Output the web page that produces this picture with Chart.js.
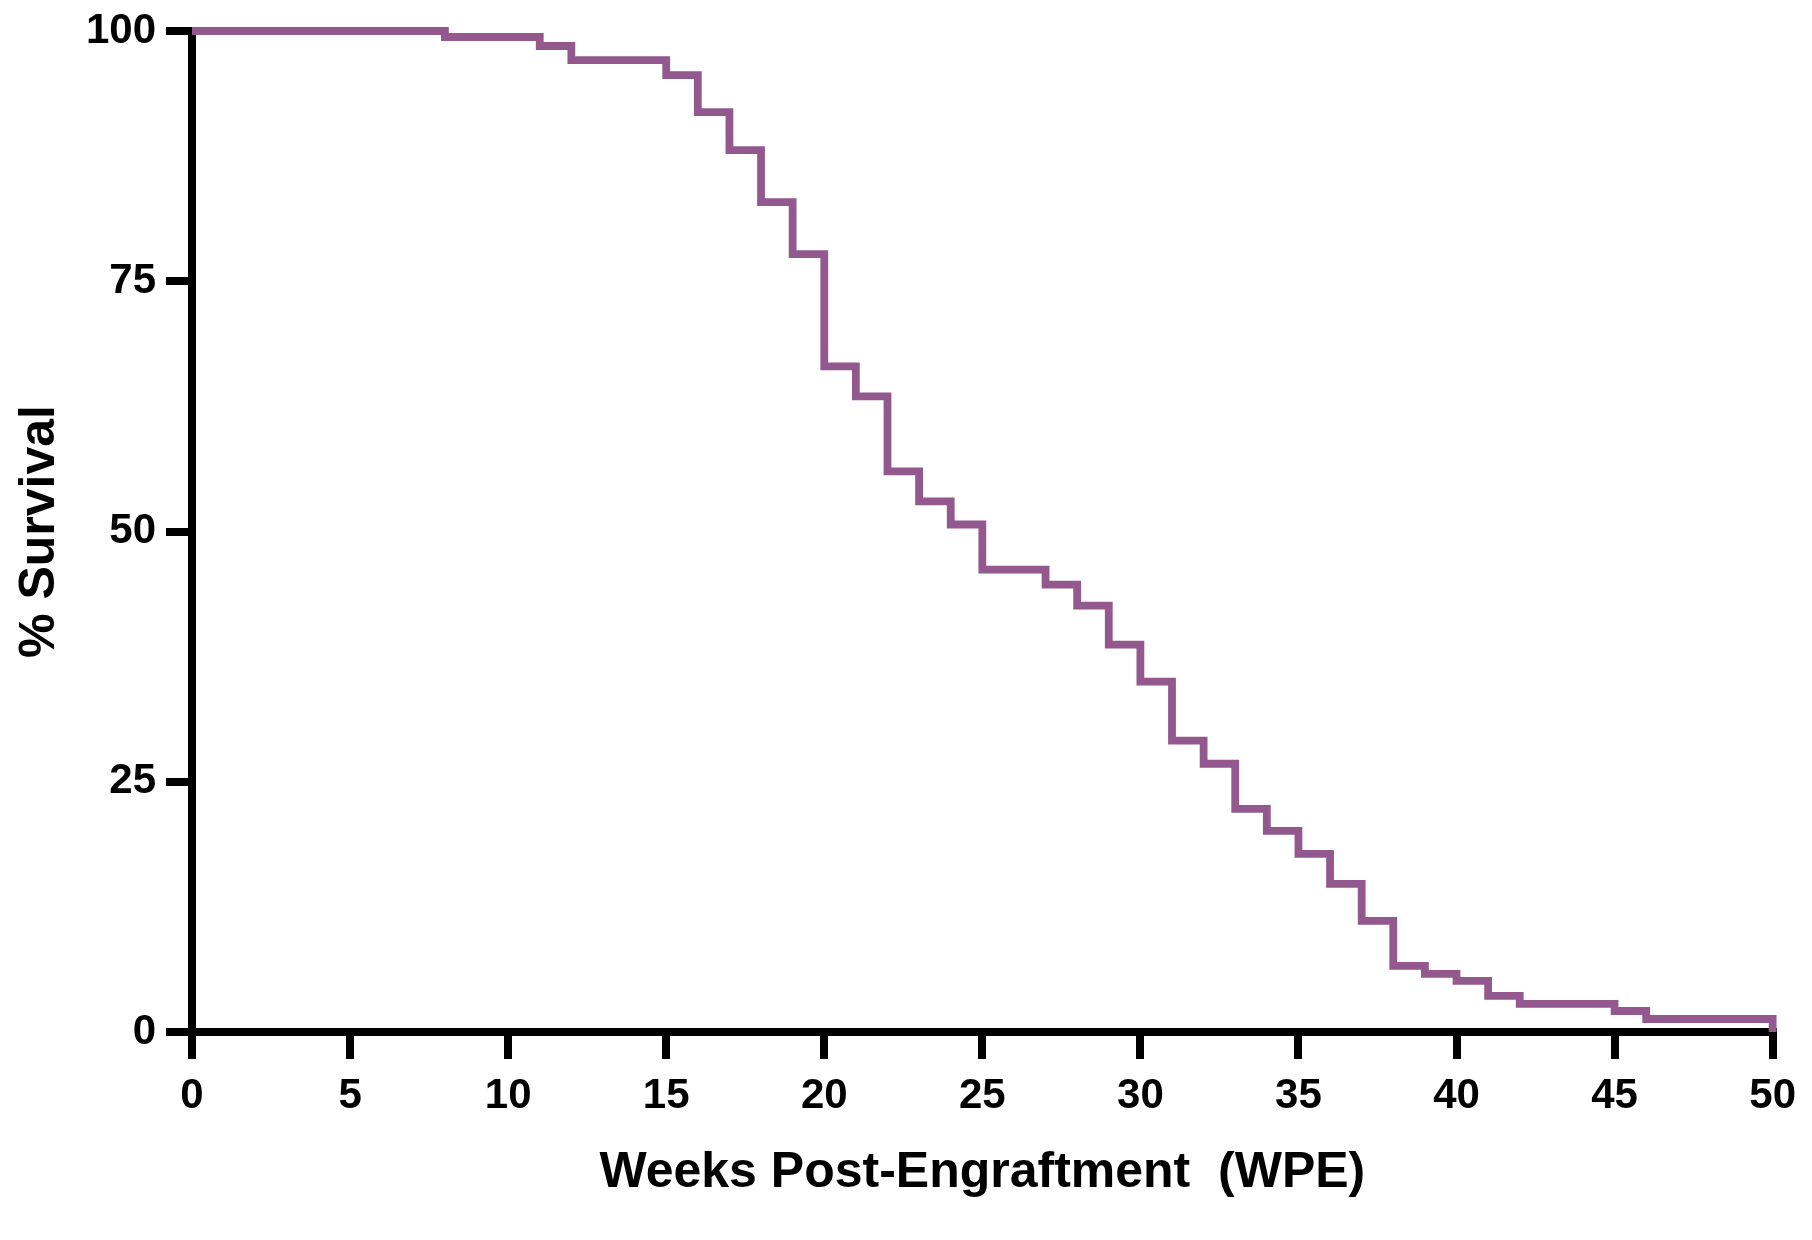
<!DOCTYPE html>
<html>
<head>
<meta charset="utf-8">
<script src="https://cdn.jsdelivr.net/npm/chart.js@4.4.1/dist/chart.umd.min.js"></script>
<style>
  html, body { margin: 0; padding: 0; background: #ffffff; }
  #wrap { width: 1812px; height: 1240px; }
</style>
</head>
<body>
<div id="wrap"><canvas id="c" width="1812" height="1240"></canvas></div>
<script>
// Kaplan-Meier survival steps (week of event, % survival after it)
const weeks    = [0, 8, 11, 12, 15, 16, 17, 18, 19, 20, 21, 22, 23, 24, 25, 27, 28, 29, 30, 31, 32, 33, 34, 35, 36, 37, 38, 39, 40, 41, 42, 45, 46, 50];
const survival = [100, 99.4, 98.5, 97.1, 95.6, 91.9, 88.1, 82.9, 77.7, 66.5, 63.5, 56.0, 53.0, 50.7, 46.2, 44.7, 42.6, 38.7, 35.0, 29.1, 26.8, 22.3, 20.1, 17.8, 14.8, 11.1, 6.6, 5.8, 5.1, 3.6, 2.8, 2.1, 1.3, 0];
const xTicks = [0, 5, 10, 15, 20, 25, 30, 35, 40, 45, 50];
const yTicks = [0, 25, 50, 75, 100];
const xTitle = 'Weeks Post-Engraftment  (WPE)';
const yTitle = '% Survival';

const points = weeks.map((w, i) => ({ x: w, y: survival[i] }));
const FONT = '"Liberation Sans", Arial, Helvetica, sans-serif';

new Chart(document.getElementById('c'), {
  type: 'line',
  data: {
    datasets: [{
      data: points,
      stepped: 'before',
      borderColor: '#93598f',
      borderWidth: 7.8,
      borderJoinStyle: 'miter',
      borderCapStyle: 'butt',
      pointRadius: 0,
      fill: false,
      clip: 10
    }]
  },
  options: {
    responsive: false,
    animation: false,
    devicePixelRatio: 1,
    layout: { padding: { left: 0, right: 37, top: 31, bottom: 0 } },
    plugins: { legend: { display: false }, tooltip: { enabled: false } },
    scales: {
      x: {
        type: 'linear',
        min: 0, max: 50,
        afterBuildTicks: (s) => { s.ticks = xTicks.map(v => ({ value: v })); },
        afterFit: (s) => { s.height = 208; },
        ticks: {
          color: '#000',
          font: { family: FONT, size: 42, weight: 'bold', lineHeight: 1 },
          padding: 16,
          maxRotation: 0,
          autoSkip: false
        },
        grid: { drawOnChartArea: false, drawTicks: true, tickLength: 27, tickWidth: 8, tickColor: '#000', color: '#000', lineWidth: 8 },
        border: { display: true, color: '#000', width: 8 },
        title: {
          display: true, text: xTitle, color: '#000',
          font: { family: FONT, size: 50, weight: 'bold' },
          padding: { top: 0, bottom: 37 }
        }
      },
      y: {
        type: 'linear',
        min: 0, max: 100,
        afterBuildTicks: (s) => { s.ticks = yTicks.map(v => ({ value: v })); },
        afterFit: (s) => { s.width = 192; },
        ticks: {
          color: '#000',
          font: { family: FONT, size: 42, weight: 'bold', lineHeight: 1 },
          padding: 10,
          autoSkip: false
        },
        grid: { drawOnChartArea: false, drawTicks: true, tickLength: 26, tickWidth: 8, tickColor: '#000', color: '#000', lineWidth: 8 },
        border: { display: true, color: '#000', width: 8 },
        title: {
          display: true, text: yTitle, color: '#000',
          font: { family: FONT, size: 50, weight: 'bold' },
          padding: { top: 10, bottom: 0 }
        }
      }
    }
  }
});
</script>
</body>
</html>
